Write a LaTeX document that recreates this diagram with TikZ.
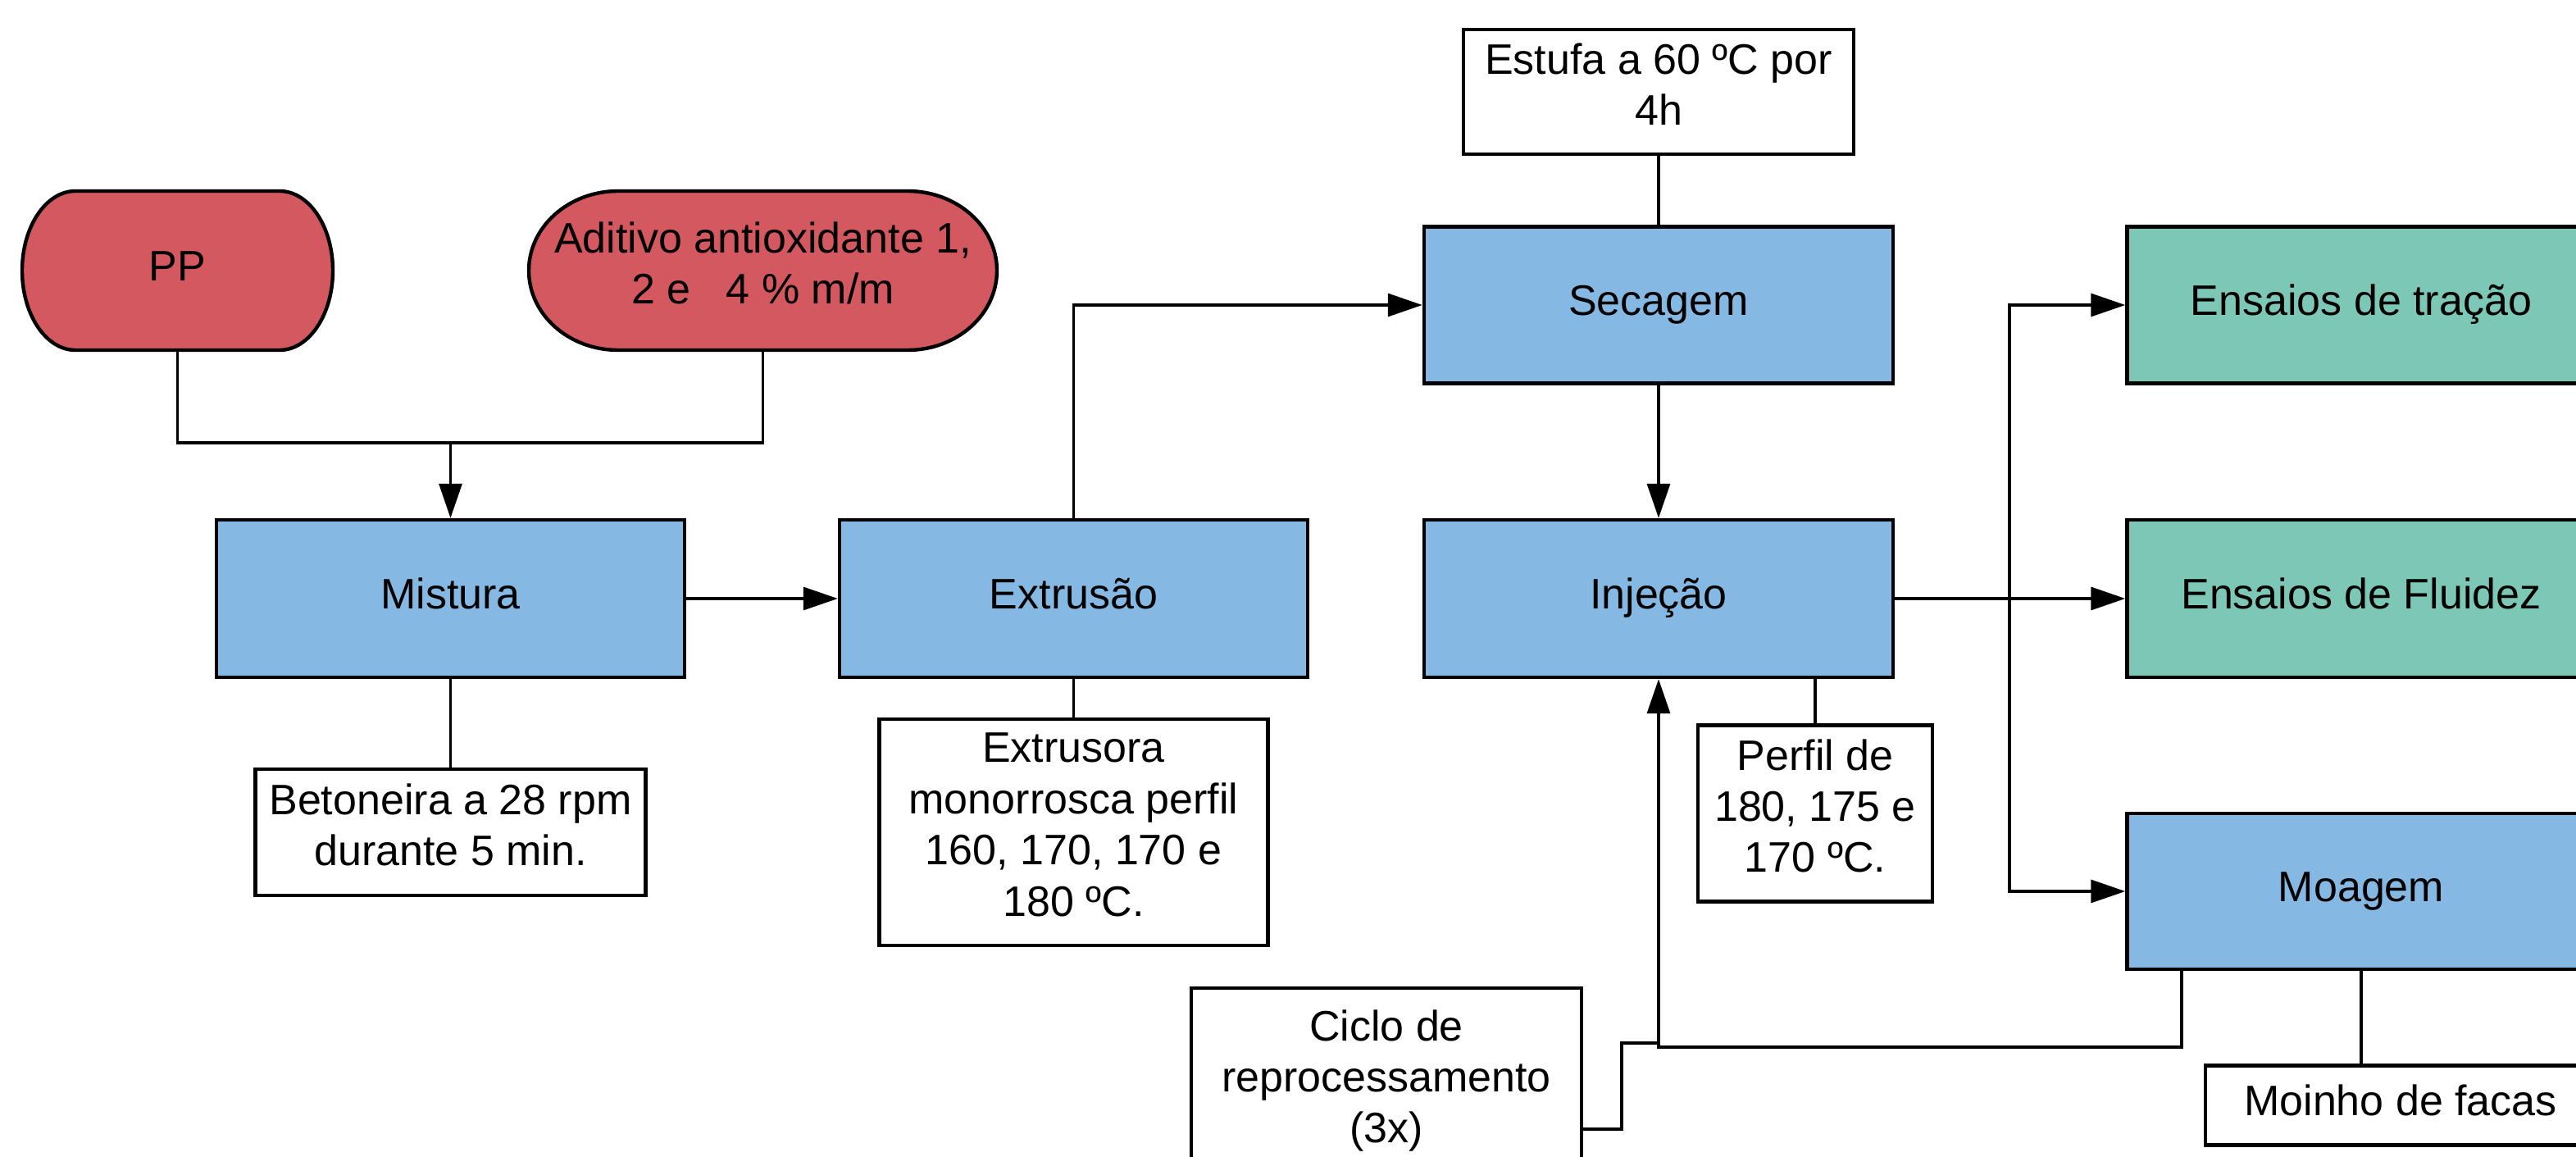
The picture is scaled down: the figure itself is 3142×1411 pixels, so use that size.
\documentclass[tikz,border=0pt]{standalone}
\usepackage{fontspec}
\setmainfont{Liberation Sans}
\usetikzlibrary{arrows.meta,backgrounds,calc}
\definecolor{procblue}{HTML}{85B9E3}
\definecolor{inred}{HTML}{D3585F}
\definecolor{testgreen}{HTML}{7CC7B6}
\tikzset{
  sz/.style 2 args={minimum width=#1*0.25pt, minimum height=#2*0.25pt},
  base/.style={rectangle, inner sep=0pt, align=center, font=\fontsize{13}{15.6}\selectfont, line width=1.1pt,
    execute at begin node=\strut, execute at end node=\strut},
  proc/.style={base, draw=black, fill=procblue},
  test/.style={base, draw=black, fill=testgreen},
  note/.style={base, draw=black, fill=white},
  stadtext/.style={base, outer sep=0pt},
  stad/.style={draw=black, fill=inred, line width=1.1pt},
  conn/.style={draw=black, line width=0.8pt},
  arr/.style={conn, -{Triangle[length=10.5pt,width=7pt]}},
}
\begin{document}
\begin{tikzpicture}[x=0.25pt,y=-0.25pt]
\useasboundingbox (0,0) rectangle (3142,1411);
\clip (0,0) rectangle (3142,1411);

% start (stadium) nodes
\node[stadtext, sz={379}{194}] (pp) at (216.5,330) {PP};
\node[stadtext, sz={571}{194}] (adit) at (930.5,330) {Aditivo antioxidante 1,\\2 e \ \ 4 \% m/m};
\begin{scope}[on background layer]
\fill[white] (0,0) rectangle (3142,1411);
\path[stad] ([xshift=16.25pt]pp.north west) -- ([xshift=-16.25pt]pp.north east)
  arc[start angle=90,end angle=-90,x radius=16.25pt,y radius=24.25pt]
  -- ([xshift=16.25pt]pp.south west)
  arc[start angle=270,end angle=90,x radius=16.25pt,y radius=24.25pt] -- cycle;
\path[stad] ([xshift=27.25pt]adit.north west) -- ([xshift=-27.25pt]adit.north east)
  arc[start angle=90,end angle=-90,x radius=27.25pt,y radius=24.25pt]
  -- ([xshift=27.25pt]adit.south west)
  arc[start angle=270,end angle=90,x radius=27.25pt,y radius=24.25pt] -- cycle;
\end{scope}

% process nodes
\node[proc, sz={571}{192}] (mistura) at (549.5,730) {Mistura};
\node[proc, sz={571}{192}] (extrusao) at (1309.5,730) {Extrusão};
\node[proc, sz={572}{191}] (secagem) at (2023,372) {Secagem};
\node[proc, sz={572}{192}] (injecao) at (2023,730) {Injeção};
\node[test, sz={571}{191}] (tracao) at (2880,372) {Ensaios de tração};
\node[test, sz={571}{192}] (fluidez) at (2880,730) {Ensaios de Fluidez};
\node[proc, sz={571}{190}] (moagem) at (2880,1087) {Moagem};

% note nodes
\node[note, sz={476}{152}] (estufa) at (2023,112) {Estufa a 60 ºC por\\4h};
\node[note, sz={476}{154}] (betoneira) at (549.5,1015) {Betoneira a 28 rpm\\durante 5 min.};
\node[note, sz={474}{276}] (extrusora) at (1309.5,1015) {Extrusora\\monorrosca perfil\\160, 170, 170 e\\180 ºC.};
\node[note, sz={286}{215}] (perfil) at (2214,992) {Perfil de\\180, 175 e\\170 ºC.};
\node[note, sz={476}{234}] (ciclo) at (1691,1322) {Ciclo de\\reprocessamento\\(3x)};
\node[note, sz={476}{97}] (moinho) at (2928,1348) {Moinho de facas};

% helper coordinates
\coordinate (join) at (549.5,540);
\coordinate (bx) at (2451,730);
\coordinate (lp) at (2661,1277);
\coordinate (cyc) at (1691,1377);
\coordinate (ck) at (1978,1272);

% connectors
\draw[conn] (pp.south) |- (join) -| (adit.south);
\draw[arr] (join) -- (mistura.north);
\draw[arr] (mistura) -- (extrusao);
\draw[conn] (mistura.south) -- (betoneira.north);
\draw[arr] (extrusao.north) |- (secagem.west);
\draw[conn] (extrusao.south) -- (extrusora.north);
\draw[conn] (estufa.south) -- (secagem.north);
\draw[arr] (secagem) -- (injecao);
\draw[conn] (perfil.north |- injecao.south) -- (perfil.north);
\draw[arr] (injecao) -- (fluidez);
\draw[arr] (bx) |- (tracao.west);
\draw[arr] (bx) |- (moagem.west);
\draw[conn] (moagem.south) -- (moagem.south |- moinho.north);
\draw[arr] (moagem.south -| lp) |- (injecao.south |- lp) -- (injecao.south);
\draw[conn] (ciclo.east |- cyc) -| (ck) -- (ck -| injecao.south);
\end{tikzpicture}
\end{document}
